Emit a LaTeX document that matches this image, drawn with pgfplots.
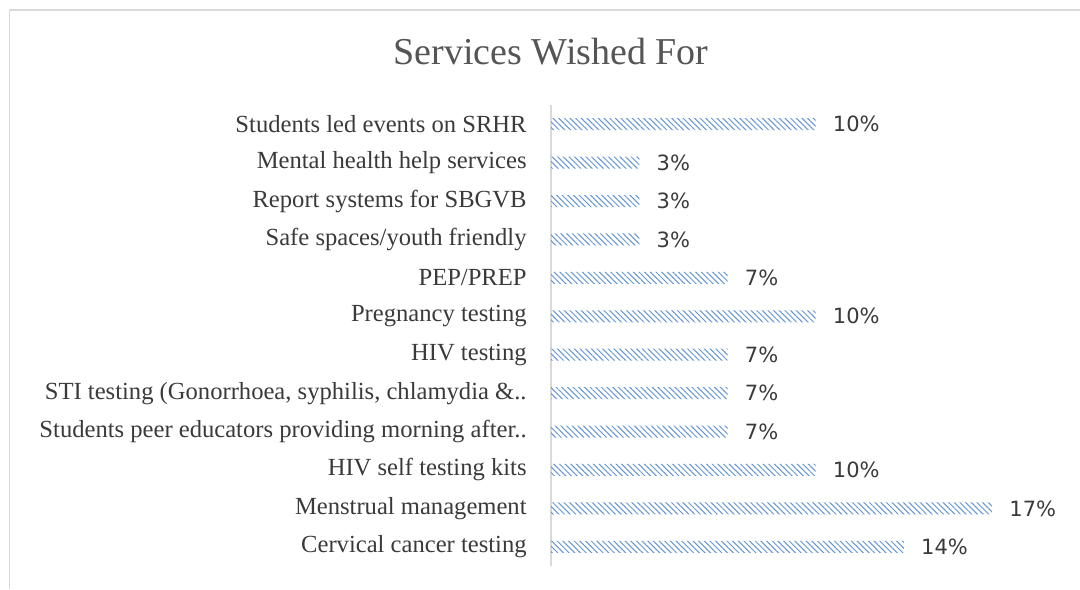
\documentclass[border=0pt]{standalone}
\usepackage{pgfplots}
\pgfplotsset{compat=1.18}
\usepackage{fontspec}
\setmainfont{Liberation Serif}
\newfontfamily\valfont{DejaVu Sans}
\usetikzlibrary{patterns.meta}
\definecolor{barblue}{HTML}{6495D6}
\definecolor{txt}{HTML}{3A3A3A}
\definecolor{ttl}{HTML}{555555}
\definecolor{framec}{HTML}{D9D9D9}

\pgfplotstableread{
y val
0 13.79
1 17.24
2 10.34
3 6.90
4 6.90
5 6.90
6 10.34
7 6.90
8 3.45
9 3.45
10 3.45
11 10.34
}\datatable

\begin{document}
\begin{tikzpicture}[x=1pt,y=1pt]
\path[use as bounding box] (0,0) rectangle (540,-294.5);
\draw[framec, line width=0.8pt] (4.8,-294.5) -- (4.8,-5) -- (540,-5);
\node[ttl, font=\fontsize{19}{21}\selectfont, inner sep=0pt] at (275.5,-26) {Services Wished For};
\begin{axis}[
  at={(275.5pt,-283pt)}, anchor=south west,
  scale only axis, width=255.8pt, height=230.5pt,
  xmin=0, xmax=20, ymin=-0.5, ymax=11.5,
  enlargelimits=false,
  xbar, bar width=6pt,
  axis x line=none, axis y line=left,
  y axis line style={-, draw=framec, line width=0.8pt},
  ytick={0,...,11},
  yticklabels={Cervical cancer testing, Menstrual management, HIV self testing kits, Students peer educators providing morning after.., {STI testing (Gonorrhoea, syphilis, chlamydia \&..}, HIV testing, Pregnancy testing, PEP/PREP, Safe spaces/youth friendly, Report systems for SBGVB, Mental health help services, Students led events on SRHR},
  major tick length=0pt,
  yticklabel style={font=\fontsize{12.3}{13}\selectfont, text=txt, inner sep=0pt, anchor=east, xshift=-12pt},
  point meta=x,
  /pgf/number format/assume math mode=true,
  nodes near coords={\pgfmathprintnumber[fixed,precision=0,assume math mode=true]{\pgfplotspointmeta}\%},
  nodes near coords style={font=\valfont\fontsize{10.5}{12}\selectfont, text=txt, anchor=west, inner sep=0pt, xshift=8.5pt},
]
\addplot[draw=none, pattern={Lines[angle=-45, distance=2pt, line width=0.5pt]}, pattern color=barblue] table[x=val, y=y] {\datatable};
\end{axis}
\end{tikzpicture}
\end{document}
